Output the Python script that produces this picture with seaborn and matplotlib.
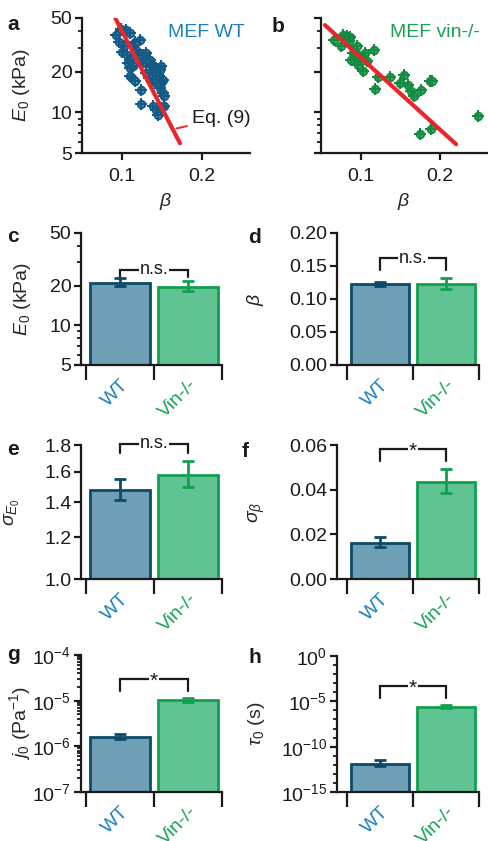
import numpy as np
import pandas as pd
import matplotlib
matplotlib.use('Agg')
import matplotlib.pyplot as plt
import matplotlib.ticker as mticker
import seaborn as sns

# panel a: MEF WT, one point per cell
wt_beta = [0.093, 0.099, 0.105, 0.110, 0.096, 0.102, 0.100, 0.106, 0.110, 0.108,
           0.114, 0.118, 0.122, 0.116, 0.120, 0.126, 0.130, 0.124, 0.130, 0.137,
           0.140, 0.143, 0.149, 0.147, 0.137, 0.142, 0.146, 0.151, 0.149, 0.143,
           0.139, 0.134, 0.130, 0.112, 0.116, 0.110, 0.124, 0.147, 0.151, 0.153,
           0.124, 0.139, 0.143, 0.149, 0.153, 0.145, 0.110, 0.114, 0.135]
wt_e0 = [37.6, 41.5, 41.0, 38.7, 33.0, 30.8, 27.8, 26.7, 24.5, 23.2,
         30.8, 29.1, 34.6, 33.0, 26.7, 26.7, 27.5, 23.2, 23.2, 22.6,
         21.9, 21.3, 21.9, 20.7, 20.7, 19.6, 18.5, 17.5, 16.5, 16.5,
         17.5, 18.0, 19.6, 18.0, 17.0, 18.5, 14.7, 15.1, 13.9, 13.2,
         11.6, 11.1, 10.5, 10.8, 11.1, 9.6, 21.3, 21.9, 24.5]

# panel b: MEF vin-/-
vin_beta = [0.066, 0.075, 0.078, 0.083, 0.087, 0.085, 0.095, 0.091, 0.092, 0.097,
            0.103, 0.101, 0.108, 0.106, 0.117, 0.122, 0.137, 0.118, 0.150, 0.155,
            0.160, 0.164, 0.168, 0.176, 0.188, 0.191, 0.175, 0.189, 0.249, 0.097,
            0.088]
vin_e0 = [34.2, 30.8, 37.6, 36.6, 36.2, 33.6, 30.8, 27.5, 24.5, 22.6,
          20.1, 25.3, 23.9, 27.5, 28.8, 18.3, 18.3, 14.9, 16.5, 19.0,
          16.0, 14.3, 13.2, 14.6, 17.0, 17.0, 6.95, 7.5, 9.35, 26.5,
          24.5]

# Eq. (9) lines
fit_wt_beta = [0.0915, 0.1725]
fit_wt_e0 = [50.0, 5.9]
fit_vin_beta = [0.055, 0.221]
fit_vin_e0 = [44.3, 5.8]

groups = ['WT', 'Vin-/-']

e0_mean = [20.9, 19.6]
e0_lo = [19.7, 18.2]
e0_hi = [22.7, 21.7]

beta_mean = [0.1224, 0.1224]
beta_lo = [0.1190, 0.1150]
beta_hi = [0.1262, 0.1320]

sig_e0_mean = [1.48, 1.58]
sig_e0_lo = [1.415, 1.495]
sig_e0_hi = [1.55, 1.675]

sig_beta_mean = [0.0163, 0.0433]
sig_beta_lo = [0.0145, 0.0387]
sig_beta_hi = [0.0187, 0.0493]

j0_mean = [1.6e-6, 1.05e-5]
j0_lo = [1.45e-6, 9.3e-6]
j0_hi = [1.9e-6, 1.15e-5]

tau0_mean = [1.2e-12, 2.4e-6]
tau0_lo = [6.5e-13, 1.8e-6]
tau0_hi = [3.3e-12, 4.3e-6]

sig_labels = ['n.s.', 'n.s.', 'n.s.', '*', '*', '*']

# colours
WT_EDGE = '#0b4a6b'
WT_FILL = '#6f9fb5'
VIN_EDGE = '#12a04e'
VIN_FILL = '#5fc393'
WT_TEXT = '#1c80bf'
VIN_TEXT = '#17a356'
WT_DOT = '#3d8ec0'
WT_DOT_EDGE = '#155a85'
VIN_DOT = '#3fb06a'
VIN_DOT_EDGE = '#138a40'
RED = '#e8262b'
INK = '#1a1a1a'

sns.set_theme(style='ticks')
plt.rcParams['font.family'] = ['Liberation Sans', 'DejaVu Sans']
plt.rcParams['mathtext.fontset'] = 'custom'
plt.rcParams['mathtext.rm'] = 'Liberation Sans'
plt.rcParams['mathtext.it'] = 'Liberation Sans:italic'
plt.rcParams['mathtext.bf'] = 'Liberation Sans:bold'
plt.rcParams['font.size'] = 14
plt.rcParams['text.color'] = INK

W, H = 488, 841
fig = plt.figure(figsize=(W / 100, H / 100), dpi=100)


def px_axes(left, top, right, bottom):
    return fig.add_axes([left / W, 1 - bottom / H, (right - left) / W, (bottom - top) / H])


def style_axes(ax):
    sns.despine(ax=ax)
    for s in ['left', 'bottom']:
        ax.spines[s].set_linewidth(1.6)
        ax.spines[s].set_color(INK)
    ax.tick_params(which='major', length=5, width=1.6, labelsize=14, pad=2,
                   color=INK, labelcolor=INK)
    ax.tick_params(which='minor', length=3, width=1.3, color=INK)


def scatter_panel(ax, beta, e0, fit_b, fit_e, face, edge, show_labels):
    df = pd.DataFrame({'beta': beta, 'E0': e0})
    sns.scatterplot(data=df, x='beta', y='E0', ax=ax, marker='o', s=30,
                    color=face, edgecolor=edge, linewidth=1.3, zorder=3)
    sns.scatterplot(data=df, x='beta', y='E0', ax=ax, marker='+', s=70,
                    color=edge, linewidth=1.5, zorder=4)
    sns.lineplot(x=fit_b, y=fit_e, ax=ax, color=RED, linewidth=3, zorder=5)
    ax.set_yscale('log')
    ax.set_ylim(5, 50)
    ax.set_xlim(0.05, 0.26)
    ax.set_xticks([0.1, 0.2], ['0.1', '0.2'])
    ax.xaxis.set_minor_locator(mticker.NullLocator())
    ax.yaxis.set_major_locator(mticker.FixedLocator([5, 10, 20, 50]))
    ax.yaxis.set_minor_locator(mticker.FixedLocator([6, 7, 8, 9, 30, 40]))
    ax.yaxis.set_minor_formatter(mticker.NullFormatter())
    if show_labels:
        ax.yaxis.set_major_formatter(mticker.FixedFormatter(['5', '10', '20', '50']))
        ax.set_ylabel(r'$E_0$ (kPa)', fontsize=14)
    else:
        ax.yaxis.set_major_formatter(mticker.NullFormatter())
        ax.set_ylabel('')
    ax.set_xlabel(r'$\beta$', fontsize=14)
    style_axes(ax)
    ax.tick_params(axis='x', pad=6)


def bar_panel(ax, mean, lo, hi, xleft):
    df = pd.DataFrame({'group': groups, 'value': mean})
    sns.barplot(data=df, x='group', y='value', hue='group', order=groups,
                hue_order=groups, palette=[WT_FILL, VIN_FILL], saturation=1,
                width=0.87, errorbar=None, legend=False, ax=ax, zorder=2)
    for patch, ec in zip(ax.patches, [WT_EDGE, VIN_EDGE]):
        patch.set_edgecolor(ec)
        patch.set_linewidth(2.0)
    for i, ec in enumerate([WT_EDGE, VIN_EDGE]):
        ax.errorbar([i], [mean[i]], yerr=[[mean[i] - lo[i]], [hi[i] - mean[i]]],
                    fmt='none', ecolor=ec, elinewidth=2, capsize=4, capthick=2,
                    zorder=3)
    style_axes(ax)
    ax.set_xlim(xleft, 1.5)
    ax.set_xticks([0, 1])
    ax.set_xticklabels(groups, rotation=45, ha='right', rotation_mode='anchor')
    for lbl, c in zip(ax.get_xticklabels(), [WT_TEXT, VIN_TEXT]):
        lbl.set_color(c)
    ax.xaxis.set_minor_locator(mticker.FixedLocator([-0.5, 0.5, 1.5]))
    ax.tick_params(axis='x', which='major', length=0, pad=8)
    ax.tick_params(axis='x', which='minor', length=11, width=1.6)
    ax.set_xlabel('')


def bracket(ax, y, leg, text):
    tr = ax.get_xaxis_transform()
    ax.plot([0, 0, 1, 1], [y - leg, y, y, y - leg], transform=tr, color=INK,
            lw=1.6, clip_on=False, solid_joinstyle='miter')
    if text == '*':
        ax.text(0.5, y, text, transform=tr, ha='center', va='center_baseline',
                fontsize=15, bbox=dict(facecolor='white', edgecolor='none', pad=0.5),
                clip_on=False)
    else:
        ax.text(0.5, y, text, transform=tr, ha='center', va='center', fontsize=13,
                bbox=dict(facecolor='white', edgecolor='none', pad=0.5),
                clip_on=False)


# --- a / b scatter panels
ax_a = px_axes(82, 18, 250, 153)
scatter_panel(ax_a, wt_beta, wt_e0, fit_wt_beta, fit_wt_e0, WT_DOT, WT_DOT_EDGE, True)
ax_a.yaxis.set_label_coords(-0.30, 0.5)
ax_a.annotate('Eq. (9)', xy=(0.168, 7.6), xytext=(0.187, 9.0), ha='left',
              va='center', fontsize=14, color=INK,
              arrowprops=dict(arrowstyle='-', color=RED, lw=1.4, shrinkA=1, shrinkB=0))

ax_b = px_axes(321, 18, 487, 153)
scatter_panel(ax_b, vin_beta, vin_e0, fit_vin_beta, fit_vin_e0, VIN_DOT, VIN_DOT_EDGE, False)

fig.text(168 / W, 1 - 37 / H, 'MEF WT', color=WT_TEXT, fontsize=14, ha='left', va='baseline')
fig.text(390 / W, 1 - 37 / H, 'MEF vin-/-', color=VIN_TEXT, fontsize=14, ha='left', va='baseline')

# --- c: E0
ax_c = px_axes(81, 233, 222, 365)
bar_panel(ax_c, e0_mean, e0_lo, e0_hi, -0.574)
ax_c.set_yscale('log')
ax_c.set_ylim(5, 50)
ax_c.yaxis.set_major_locator(mticker.FixedLocator([5, 10, 20, 50]))
ax_c.yaxis.set_major_formatter(mticker.FixedFormatter(['5', '10', '20', '50']))
ax_c.yaxis.set_minor_locator(mticker.FixedLocator([6, 7, 8, 9, 30, 40]))
ax_c.yaxis.set_minor_formatter(mticker.NullFormatter())
ax_c.set_ylabel(r'$E_0$ (kPa)', fontsize=14)
ax_c.yaxis.set_label_coords(-0.34, 0.5)
bracket(ax_c, 0.72, 0.05, sig_labels[0])

# --- d: beta
ax_d = px_axes(337, 233, 479, 365)
bar_panel(ax_d, beta_mean, beta_lo, beta_hi, -0.652)
ax_d.set_ylim(0, 0.2)
ax_d.set_yticks([0, 0.05, 0.10, 0.15, 0.20], ['0.00', '0.05', '0.10', '0.15', '0.20'])
ax_d.set_ylabel(r'$\beta$', fontsize=14)
ax_d.yaxis.set_label_coords(-0.50, 0.5)
bracket(ax_d, 0.81, 0.09, sig_labels[1])

# --- e: sigma E0
ax_e = px_axes(81, 445, 222, 579)
bar_panel(ax_e, sig_e0_mean, sig_e0_lo, sig_e0_hi, -0.574)
ax_e.set_yscale('log')
ax_e.set_ylim(1.0, 1.8)
ax_e.yaxis.set_major_locator(mticker.FixedLocator([1.0, 1.2, 1.4, 1.6, 1.8]))
ax_e.yaxis.set_major_formatter(mticker.FixedFormatter(['1.0', '1.2', '1.4', '1.6', '1.8']))
ax_e.yaxis.set_minor_locator(mticker.NullLocator())
ax_e.set_ylabel(r'$\sigma_{E_0}$', fontsize=14)
ax_e.yaxis.set_label_coords(-0.42, 0.5)
bracket(ax_e, 1.01, 0.07, sig_labels[2])

# --- f: sigma beta
ax_f = px_axes(337, 445, 479, 579)
bar_panel(ax_f, sig_beta_mean, sig_beta_lo, sig_beta_hi, -0.652)
ax_f.set_ylim(0, 0.06)
ax_f.set_yticks([0, 0.02, 0.04, 0.06], ['0.00', '0.02', '0.04', '0.06'])
ax_f.set_ylabel(r'$\sigma_\beta$', fontsize=14)
ax_f.yaxis.set_label_coords(-0.49, 0.5)
bracket(ax_f, 0.97, 0.09, sig_labels[3])

# --- g: j0
ax_g = px_axes(81, 655, 222, 792)
bar_panel(ax_g, j0_mean, j0_lo, j0_hi, -0.574)
ax_g.set_yscale('log')
ax_g.set_ylim(1e-7, 1e-4)
ax_g.yaxis.set_major_locator(mticker.FixedLocator([1e-7, 1e-6, 1e-5, 1e-4]))
ax_g.yaxis.set_major_formatter(mticker.FixedFormatter(
    [r'$\mathregular{10^{-7}}$', r'$\mathregular{10^{-6}}$',
     r'$\mathregular{10^{-5}}$', r'$\mathregular{10^{-4}}$']))
ax_g.yaxis.set_minor_locator(mticker.LogLocator(base=10, subs=np.arange(2, 10), numticks=20))
ax_g.yaxis.set_minor_formatter(mticker.NullFormatter())
ax_g.set_ylabel(r'$j_0$ (Pa$^{-1}$)', fontsize=14)
ax_g.yaxis.set_label_coords(-0.34, 0.5)
bracket(ax_g, 0.825, 0.09, sig_labels[4])

# --- h: tau0
ax_h = px_axes(337, 656, 479, 792)
bar_panel(ax_h, tau0_mean, tau0_lo, tau0_hi, -0.652)
ax_h.set_yscale('log')
ax_h.set_ylim(1e-15, 1)
ax_h.yaxis.set_major_locator(mticker.FixedLocator([1e-15, 1e-10, 1e-5, 1]))
ax_h.yaxis.set_major_formatter(mticker.FixedFormatter(
    [r'$\mathregular{10^{-15}}$', r'$\mathregular{10^{-10}}$',
     r'$\mathregular{10^{-5}}$', r'$\mathregular{10^{0}}$']))
ax_h.yaxis.set_minor_locator(mticker.FixedLocator(
    [10.0 ** k for k in range(-15, 1) if k % 5 != 0]))
ax_h.yaxis.set_minor_formatter(mticker.NullFormatter())
ax_h.set_ylabel(r'$\tau_0$ (s)', fontsize=14)
ax_h.yaxis.set_label_coords(-0.49, 0.5)
bracket(ax_h, 0.78, 0.09, sig_labels[5])

# panel letters
for letter, x, y in [('a', 7, 30), ('b', 272, 32), ('c', 7, 242), ('d', 248, 243),
                     ('e', 7, 455), ('f', 242, 457), ('g', 7, 660), ('h', 248, 663)]:
    fig.text(x / W, 1 - y / H, letter, fontsize=15, fontweight='bold',
             ha='left', va='baseline', color=INK)

fig.savefig('out.png', dpi=100)
